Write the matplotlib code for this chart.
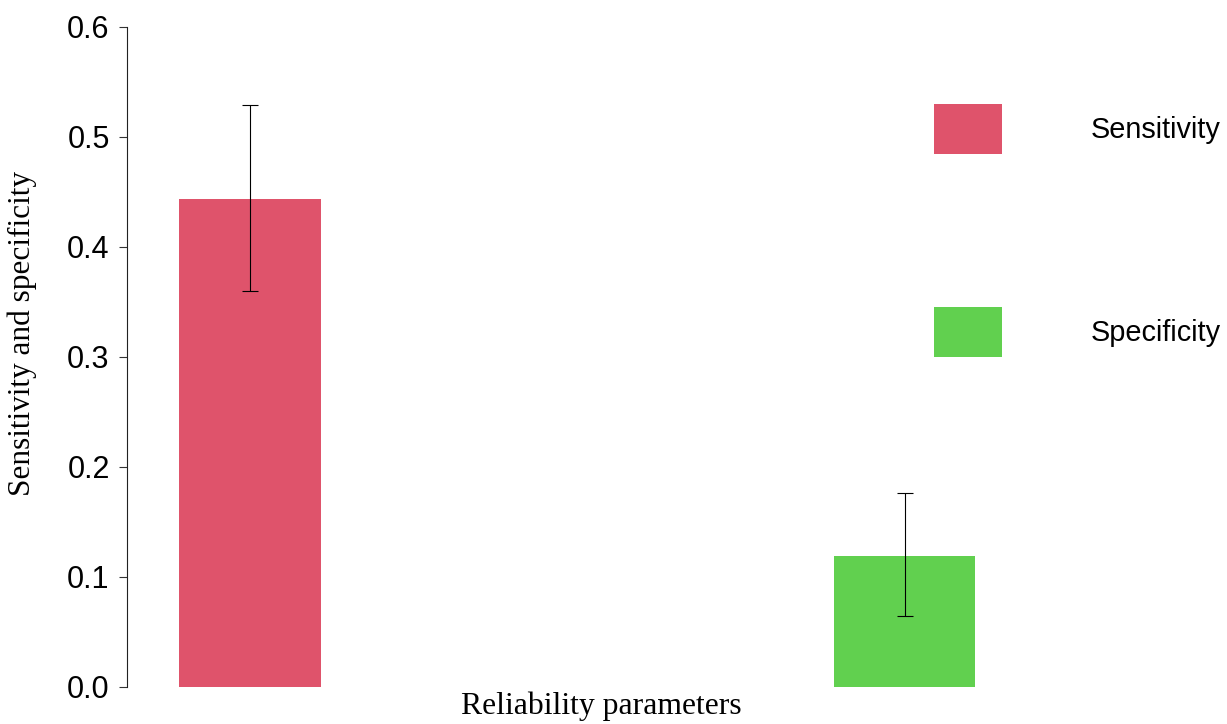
import matplotlib.pyplot as plt
from matplotlib.patches import Patch

# Reliability parameters with their confidence intervals
labels = ["Sensitivity", "Specificity"]
values = [0.444, 0.119]
ci_low = [0.360, 0.064]
ci_high = [0.529, 0.176]
colors = ["#DF536B", "#61D04F"]

positions = [0, 1]
yerr = [[v - lo for v, lo in zip(values, ci_low)],
        [hi - v for v, hi in zip(values, ci_high)]]

fig = plt.figure(figsize=(12.27, 7.24), dpi=100)
ax = fig.add_axes([127 / 1227, 1 - 686.7 / 724, (1075 - 127) / 1227, (686.7 - 27) / 724])

ax.bar(positions, values, width=0.216, color=colors, edgecolor="none")
ax.errorbar(positions, values, yerr=yerr, fmt="none", ecolor="black",
            elinewidth=0.8, capsize=5.8, capthick=0.8)

ax.set_xlim(-0.188, 1.2605)
ax.set_ylim(0, 0.6)
ax.set_yticks([0.0, 0.1, 0.2, 0.3, 0.4, 0.5, 0.6])
ax.set_yticklabels([f"{t:.1f}" for t in ax.get_yticks()],
                   fontfamily="Liberation Sans", fontsize=22)
ax.tick_params(axis="y", length=6, width=0.8, pad=6.5, color="#333333")
ax.set_xticks([])

for side in ["top", "right", "bottom"]:
    ax.spines[side].set_visible(False)
ax.spines["left"].set_linewidth(0.8)
ax.spines["left"].set_color("#222222")

ax.set_xlabel("Reliability parameters", fontfamily="Liberation Serif", fontsize=22.8)
ax.xaxis.set_label_coords(0.5, -0.008)
ax.set_ylabel("Sensitivity and specificity", fontfamily="Liberation Serif",
              fontsize=22.5, va="center")
ax.yaxis.set_label_coords(-0.1108, 0.536)

# legend boxes sit far apart, outside the bars on the right
handles = [Patch(facecolor=c, edgecolor="none", label=l) for c, l in zip(colors, labels)]
ax.legend(handles=handles, loc="upper left",
          bbox_to_anchor=(934 / 1227, 1 - 104 / 724), bbox_transform=fig.transFigure,
          frameon=False, borderpad=0, borderaxespad=0,
          prop={"family": "Liberation Sans", "size": 20.8},
          handlelength=2.36, handleheight=2.27, handletextpad=3.05,
          labelspacing=5.3)

fig.savefig("out.png", dpi=100)
